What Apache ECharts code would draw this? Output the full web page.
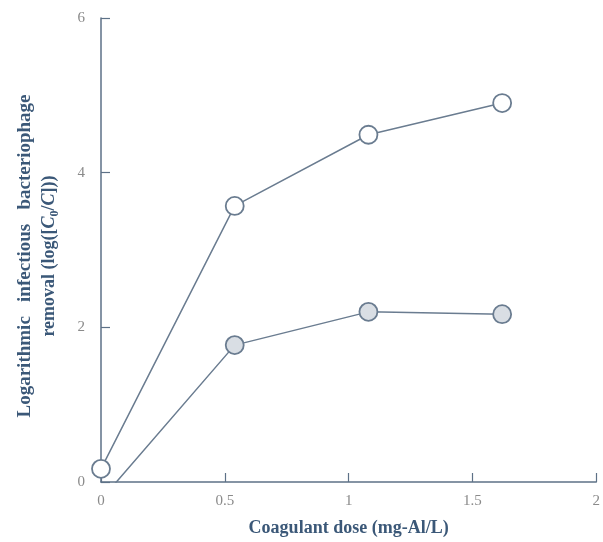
<!DOCTYPE html>
<html>
<head>
<meta charset="utf-8">
<script src="https://cdn.jsdelivr.net/npm/echarts@6/dist/echarts.min.js"></script>
<style>
  html, body { margin: 0; padding: 0; background: #fff; }
  #main { width: 603px; height: 542px; }
</style>
</head>
<body>
<div id="main"></div>
<script>
// coagulant dose (mg-Al/L)
const doses = [0, 0.54, 1.08, 1.62];
// open circles
const openRemoval = [0.17, 3.57, 4.49, 4.9];
// grey circles (first point lies below the axis, only the line shows)
const greyRemoval = [-0.23, 1.77, 2.2, 2.17];
const xTicks = [0, 0.5, 1, 1.5, 2];
const yTicks = [0, 2, 4, 6];

const axisColor = '#5d7187';
const lineColor = '#6a7c90';
const titleColor = '#3b5878';
const labelColor = '#8a8a8a';
const serif = '"Liberation Serif", "Times New Roman", serif';

const chart = echarts.init(document.getElementById('main'), null, { renderer: 'canvas' });

const toPairs = (xs, ys) => xs.map((x, i) => [x, ys[i]]);

const greyData = toPairs(doses, greyRemoval).map((p, i) =>
  i === 0 ? { value: p, symbol: 'none' } : p
);

// the source title is justified, words sit a bit apart
const gap = '   ';
const yName = 'Logarithmic' + gap + 'infectious' + gap + 'bacteriophage\n' +
  '{r|removal (log([}{i|C}{sub|0}{r|/}{i|C}{r|]))}';

const option = {
  backgroundColor: '#fff',
  animation: false,
  grid: { left: 101, right: 3, top: 18, bottom: 55 },
  xAxis: {
    type: 'value',
    min: xTicks[0],
    max: xTicks[xTicks.length - 1],
    interval: 0.5,
    splitLine: { show: false },
    axisLine: { lineStyle: { color: axisColor, width: 1.5 } },
    axisTick: { inside: true, length: 9, lineStyle: { color: axisColor, width: 1.2 } },
    axisLabel: { color: labelColor, fontFamily: serif, fontSize: 15, margin: 12 },
    name: 'Coagulant dose (mg-Al/L)',
    nameLocation: 'middle',
    nameGap: 37,
    nameTextStyle: { color: titleColor, fontFamily: serif, fontWeight: 'bold', fontSize: 18 }
  },
  yAxis: {
    type: 'value',
    min: yTicks[0],
    max: yTicks[yTicks.length - 1],
    interval: 2,
    splitLine: { show: false },
    axisLine: { lineStyle: { color: axisColor, width: 1.5 } },
    axisTick: { inside: true, length: 9, lineStyle: { color: axisColor, width: 1.2 } },
    axisLabel: { color: labelColor, fontFamily: serif, fontSize: 15, margin: 16 },
    name: yName,
    nameLocation: 'middle',
    nameRotate: 90,
    nameGap: 40,
    nameTextStyle: {
      color: titleColor,
      fontFamily: serif,
      fontWeight: 'bold',
      fontSize: 19,
      lineHeight: 24,
      padding: [0, 12, 0, 0],
      rich: {
        r: { color: titleColor, fontFamily: serif, fontWeight: 'bold', fontSize: 18 },
        i: { color: titleColor, fontFamily: serif, fontWeight: 'bold', fontStyle: 'italic', fontSize: 18 },
        sub: { color: titleColor, fontFamily: serif, fontWeight: 'bold', fontSize: 12, verticalAlign: 'bottom', padding: [6, 0, 0, 0] }
      }
    }
  },
  series: [
    {
      type: 'line',
      data: toPairs(doses, openRemoval),
      symbol: 'circle',
      symbolSize: 18,
      lineStyle: { color: lineColor, width: 1.5 },
      itemStyle: { color: '#ffffff', borderColor: lineColor, borderWidth: 1.8 },
      z: 3
    },
    {
      type: 'line',
      data: greyData,
      clip: true,
      symbol: 'circle',
      symbolSize: 18,
      lineStyle: { color: lineColor, width: 1.5 },
      itemStyle: { color: '#d9dee4', borderColor: lineColor, borderWidth: 1.8 },
      z: 3
    }
  ]
};

chart.setOption(option);
</script>
</body>
</html>
